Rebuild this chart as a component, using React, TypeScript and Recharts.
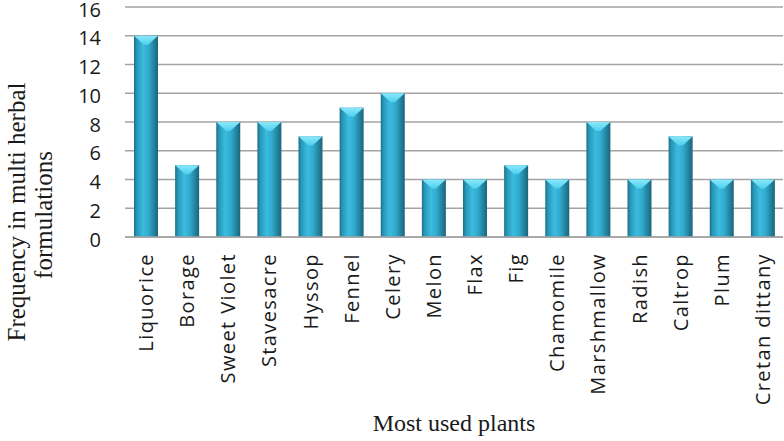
import { BarChart, Bar, XAxis, YAxis, CartesianGrid } from "recharts";

const plants = [
  "Liquorice",
  "Borage",
  "Sweet Violet",
  "Stavesacre",
  "Hyssop",
  "Fennel",
  "Celery",
  "Melon",
  "Flax",
  "Fig",
  "Chamomile",
  "Marshmallow",
  "Radish",
  "Caltrop",
  "Plum",
  "Cretan dittany",
];
const frequency = [14, 5, 8, 8, 7, 9, 10, 4, 4, 5, 4, 8, 4, 7, 4, 4];
const yTicks = [0, 2, 4, 6, 8, 10, 12, 14, 16];

const data = plants.map((name, i) => ({ name, value: frequency[i] }));

const sans = "'Open Sans', 'Liberation Sans', sans-serif";
const serif = "'Liberation Serif', 'Times New Roman', serif";

function PlantTick({ x, y, payload }: any) {
  return (
    <text
      transform={`translate(${x},${y}) rotate(-90)`}
      textAnchor="end"
      dominantBaseline="central"
      style={{ fontFamily: sans, fontSize: 20, letterSpacing: 1.4 }}
      fill="#1a1a1a"
    >
      {payload.value}
    </text>
  );
}

function CountTick({ x, y, payload }: any) {
  return (
    <text
      x={x}
      y={y + 2}
      textAnchor="end"
      dominantBaseline="central"
      style={{ fontFamily: sans, fontSize: 20 }}
      fill="#1a1a1a"
    >
      {payload.value}
    </text>
  );
}

function CylinderBar({ x, y, width, height }: any) {
  if (!height || height <= 0) return null;
  const cap = Math.min(9, height);
  return (
    <g>
      <rect x={x} y={y} width={width} height={height} fill="url(#barGrad)" />
      <polygon
        points={`${x},${y} ${x + width},${y} ${x + width / 2 + 2},${y + cap} ${x + width / 2 - 2},${y + cap}`}
        fill="url(#capGrad)"
      />
    </g>
  );
}

const titleStyle = { fontFamily: serif, fontSize: 25 };

export default function App() {
  return (
    <div style={{ position: "fixed", left: 0, top: 0, width: 784, height: 441, background: "#fff" }}>
      <BarChart
        width={784}
        height={441}
        data={data}
        margin={{ top: 7, right: 1, left: 0, bottom: 0 }}
        barSize={24}
      >
        <defs>
          <linearGradient id="barGrad" x1="0" y1="0" x2="1" y2="0">
            <stop offset="0%" stopColor="#1c7089" />
            <stop offset="12%" stopColor="#2898b8" />
            <stop offset="38%" stopColor="#3bbce0" />
            <stop offset="62%" stopColor="#30a9cb" />
            <stop offset="100%" stopColor="#19657c" />
          </linearGradient>
          <linearGradient id="capGrad" x1="0" y1="0" x2="0" y2="1">
            <stop offset="0%" stopColor="#8ae8fa" />
            <stop offset="100%" stopColor="#4fd0ee" />
          </linearGradient>
        </defs>
        <CartesianGrid vertical={false} stroke="#a3a3a3" strokeWidth={1.3} />
        <XAxis
          dataKey="name"
          interval={0}
          height={204}
          tickSize={0}
          tickMargin={16}
          tick={<PlantTick />}
          axisLine={{ stroke: "#a3a3a3", strokeWidth: 1.3 }}
          tickLine={false}
          label={{
            content: () => (
              <text
                x={454}
                y={431}
                textAnchor="middle"
                style={{ fontFamily: serif, fontSize: 24 }}
                fill="#1a1a1a"
              >
                Most used plants
              </text>
            ),
          }}
        />
        <YAxis
          width={125}
          domain={[0, 16]}
          ticks={yTicks}
          interval={0}
          axisLine={false}
          tickLine={false}
          tickSize={0}
          tickMargin={24}
          tick={<CountTick />}
          label={{
            content: () => (
              <g>
                <text
                  transform="translate(16,212) rotate(-90)"
                  textAnchor="middle"
                  dominantBaseline="central"
                  style={titleStyle}
                  fill="#1a1a1a"
                >
                  Frequency in multi herbal
                </text>
                <text
                  transform="translate(43,215) rotate(-90)"
                  textAnchor="middle"
                  dominantBaseline="central"
                  style={titleStyle}
                  fill="#1a1a1a"
                >
                  formulations
                </text>
              </g>
            ),
          }}
        />
        <Bar dataKey="value" shape={<CylinderBar />} isAnimationActive={false} />
      </BarChart>
    </div>
  );
}
